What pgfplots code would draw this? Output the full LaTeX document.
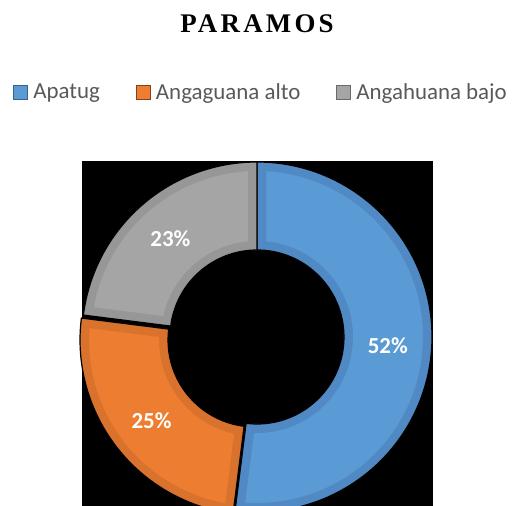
\documentclass[border=0pt]{standalone}
\usepackage{pgfplots}
\pgfplotsset{compat=1.18}
\usepackage{pgfplotstable}
\usepackage{fontspec}
\setmainfont{Carlito}
\newfontfamily\titlefont{Liberation Serif}

\definecolor{cBlue}{HTML}{5B9BD5}
\definecolor{cBlueD}{HTML}{5089C4}
\definecolor{cOrange}{HTML}{ED7D31}
\definecolor{cOrangeD}{HTML}{D8722D}
\definecolor{cGray}{HTML}{A5A5A5}
\definecolor{cGrayD}{HTML}{979797}
\definecolor{legtext}{HTML}{595959}

\pgfplotstableread{
name value
Apatug 52
AngaguanaAlto 25
AngahuanaBajo 23
}\paramos

% one donut slice: start angle, end angle, fill, border, x shift, y shift
\newcommand\slice[6]{%
  \begin{scope}[shift={(axis cs:257,169)}, xshift=#5bp, yshift=#6bp]
    \begin{scope}
      \clip (#1:175bp) arc[start angle=#1, end angle=#2, radius=175bp]
        -- (#2:87bp) arc[start angle=#2, end angle=#1, radius=87bp] -- cycle;
      \fill[#3] (#1:175bp) arc[start angle=#1, end angle=#2, radius=175bp]
        -- (#2:87bp) arc[start angle=#2, end angle=#1, radius=87bp] -- cycle;
      \draw[#4, line width=18bp] (#1:175bp) arc[start angle=#1, end angle=#2, radius=175bp]
        -- (#2:87bp) arc[start angle=#2, end angle=#1, radius=87bp] -- cycle;
    \end{scope}
    \draw[black, line width=1.2bp] (#1:175bp) arc[start angle=#1, end angle=#2, radius=175bp]
        -- (#2:87bp) arc[start angle=#2, end angle=#1, radius=87bp] -- cycle;
  \end{scope}}

\begin{document}
\begin{tikzpicture}
\pgfplotstablegetelem{0}{value}\of\paramos \let\vA\pgfplotsretval
\pgfplotstablegetelem{1}{value}\of\paramos \let\vB\pgfplotsretval
\pgfplotstablegetelem{2}{value}\of\paramos \let\vC\pgfplotsretval
\pgfmathsetmacro\aA{90}
\pgfmathsetmacro\aB{\aA-3.6*\vA}
\pgfmathsetmacro\aC{\aB-3.6*\vB}
\pgfmathsetmacro\aD{\aC-3.6*\vC}
\pgfmathsetmacro\mA{(\aA+\aB)/2}
\pgfmathsetmacro\mB{(\aB+\aC)/2}
\pgfmathsetmacro\mC{(\aC+\aD)/2}
\begin{axis}[
    scale only axis,
    width=513bp, height=506bp,
    xmin=0, xmax=513, ymin=0, ymax=506,
    hide axis,
    legend image code/.code={\draw[#1] (0bp,-7bp) rectangle (14bp,7bp);},
    legend style={
        at={(0.509,0.818)}, anchor=center,
        draw=none, fill=none,
        legend columns=3,
        font=\fontsize{23}{27}\selectfont,
        text=legtext,
        inner sep=0pt,
        /tikz/every odd column/.append style={column sep=3bp},
        /tikz/every even column/.append style={column sep=34bp},
    },
    legend cell align=left,
]
\addlegendimage{fill=cBlue, draw=cBlueD!70!black, line width=1bp}
\addlegendimage{fill=cOrange, draw=cOrangeD!60!black, line width=1bp}
\addlegendimage{fill=cGray, draw=cGrayD!70!black, line width=1bp}
\legend{Apatug, Angaguana alto, Angahuana bajo}

\fill[black] (axis cs:82,0) rectangle (axis cs:433,345);

\slice{\aA}{\aB}{cBlue}{cBlueD}{0}{0}
\slice{\aB}{\aC}{cOrange}{cOrangeD}{-2}{-3}
\slice{\aC}{\aD}{cGray}{cGrayD}{0}{0}

\begin{scope}[shift={(axis cs:257,169)}, font=\fontsize{23}{27}\selectfont\bfseries, text=white]
  \node at (\mA:131bp) {\vA\%};
  \node at ([shift={(-2bp,-3bp)}]\mB:131bp) {\vB\%};
  \node at (\mC:131bp) {\vC\%};
\end{scope}

\node[font=\titlefont\fontsize{27}{30}\selectfont\bfseries\addfontfeature{LetterSpace=12}]
  at (axis cs:257,482) {PARAMOS};
\end{axis}
\pgfresetboundingbox
\path (current axis.south west) rectangle (current axis.north east);
\end{tikzpicture}
\end{document}
